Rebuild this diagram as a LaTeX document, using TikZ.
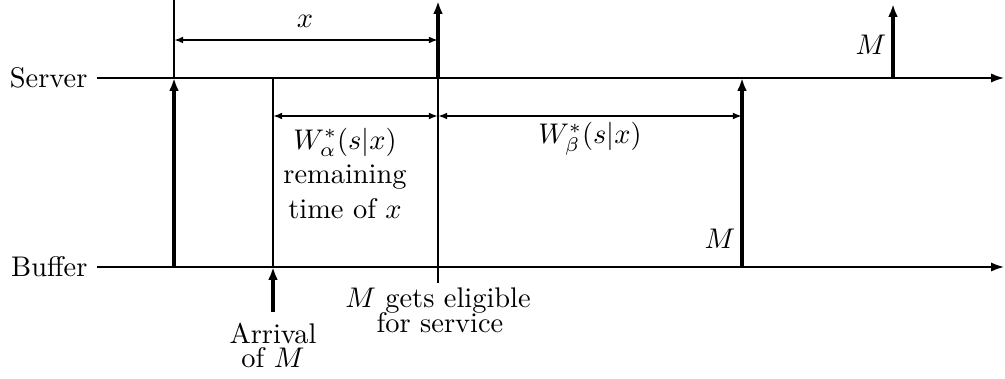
\documentclass[tikz,border=0pt]{standalone}
\usetikzlibrary{arrows.meta}
\begin{document}
\begin{tikzpicture}[x=0.352pt,y=-0.352pt,
  axisline/.style={line width=0.6pt,-{Latex[length=4.5pt,width=3.2pt]}},
  thinline/.style={line width=0.6pt},
  event/.style={line width=1.1pt,-{Latex[length=4.5pt,width=3.4pt]}},
  dim/.style={line width=0.6pt,{Latex[length=3.2pt,width=2.4pt]}-{Latex[length=3.2pt,width=2.4pt]}},
  lbl/.style={inner sep=0pt}]
\useasboundingbox (0,0) rectangle (1005,379);
% axes
\coordinate (s0) at (97,78); \coordinate (s1) at (1004,78);
\coordinate (b0) at (97,267); \coordinate (b1) at (1004,267);
\node[lbl,anchor=east] (srv) at (88,78) {Server};
\node[lbl,anchor=east] (buf) at (88,267) {Buffer};
\draw[axisline] (s0) -- (s1);
\draw[axisline] (b0) -- (b1);
% x = 174
\coordinate (a0) at (174,0); \coordinate (a1) at (174,78); \coordinate (a2) at (174,267);
\draw[thinline] (a0) -- (a1);
\draw[event] (a2) -- (a1);
% x = 273
\coordinate (c1) at (273,78); \coordinate (c2) at (273,267); \coordinate (c3) at (273,312);
\draw[thinline] (c1) -- (c2);
\draw[event] (c3) -- (c2);
% x = 438
\coordinate (d0) at (438,1); \coordinate (d1) at (438,78); \coordinate (d2) at (438,283);
\draw[event] (d1) -- (d0);
\draw[thinline] (d1) -- (d2);
% x = 742
\coordinate (e1) at (742,78); \coordinate (e2) at (742,267);
\draw[event] (e2) -- (e1);
% x = 893
\coordinate (f0) at (893,4); \coordinate (f1) at (893,78);
\draw[event] (f1) -- (f0);
% dimensions
\coordinate (xa) at (174,40); \coordinate (xb) at (438,40);
\draw[dim] (xa) -- (xb);
\coordinate (wa) at (273,116); \coordinate (wb) at (438,116); \coordinate (wc) at (742,116);
\draw[dim] (wa) -- (wb);
\draw[dim] (wb) -- (wc);
% labels
\node[lbl] (xl) at (305,21) {$x$};
\node[lbl] (wal) at (345,142) {$W^*_\alpha(s|x)$};
\node[lbl] (rem) at (345,177) {remaining};
\node[lbl] (tox) at (345,209) {time of $x$};
\node[lbl] (wbl) at (590,139) {$W^*_\beta(s|x)$};
\node[lbl] (m1) at (720,239) {$M$};
\node[lbl] (m2) at (871,45) {$M$};
\node[lbl] (arr) at (273,333) {Arrival};
\node[lbl] (ofm) at (273,358) {of $M$};
\node[lbl] (elig) at (438,301) {$M$ gets eligible};
\node[lbl] (fsv) at (440,323) {for service};
\end{tikzpicture}
\end{document}
